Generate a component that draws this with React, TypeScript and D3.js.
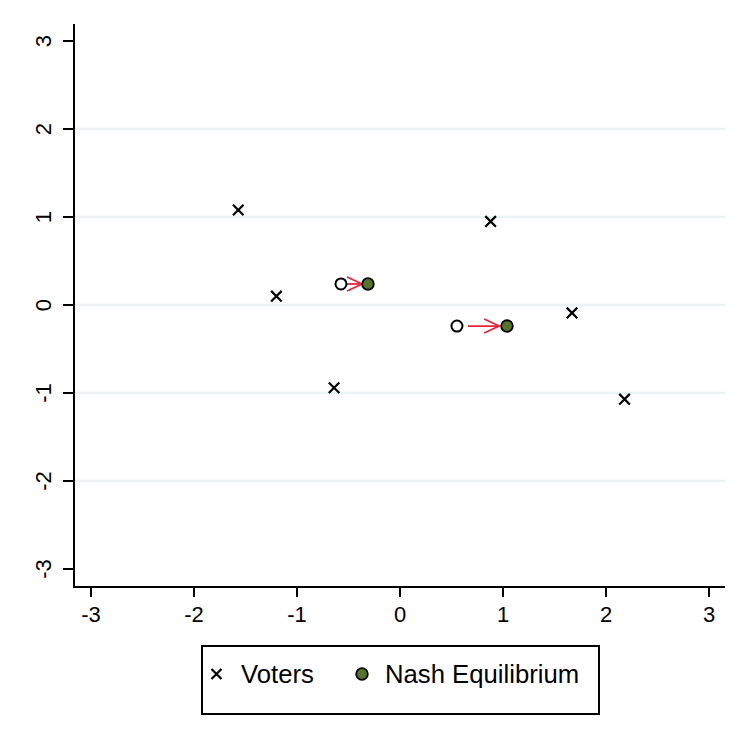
import React from "react";
import * as d3 from "d3";

const voterX = [-1.57, -1.2, -0.64, 0.88, 1.67, 2.18];
const voterY = [1.08, 0.1, -0.94, 0.95, -0.09, -1.07];

const startX = [-0.573, 0.553];
const startY = [0.239, -0.239];
const nashX = [-0.311, 1.039];
const nashY = [0.239, -0.239];

const arrowFromX = [-0.534, 0.66];
const arrowToX = [-0.369, 0.963];
const arrowY = [0.239, -0.239];

const xTicks = [-3, -2, -1, 0, 1, 2, 3];
const yTicks = [-3, -2, -1, 0, 1, 2, 3];
const gridTicks = [-2, -1, 0, 1, 2];

const W = 747;
const H = 747;
const GREEN = "#55752F";
const RED = "#E8243C";
const FONT = "'Liberation Sans', Arial, sans-serif";

export default function App() {
  const x = d3.scaleLinear().domain([-3, 3]).range([91, 709]);
  const y = d3.scaleLinear().domain([-3, 3]).range([569, 41]);
  const axL = 74, axR = 725, axT = 24, axB = 587;

  const cross = (cx: number, cy: number, s: number, key: string) => (
    <path key={key} d={`M${cx - s},${cy - s}L${cx + s},${cy + s}M${cx - s},${cy + s}L${cx + s},${cy - s}`} stroke="#000" strokeWidth={2.2} fill="none" />
  );

  return (
    <svg width={W} height={H} style={{ position: "absolute", left: 0, top: 0, background: "#fff" }} fontFamily={FONT}>
      <rect x={0} y={0} width={W} height={H} fill="#fff" />
      {gridTicks.map((t) => (
        <line key={"g" + t} x1={axL} x2={axR} y1={y(t)} y2={y(t)} stroke="#EAF2F3" strokeWidth={2.5} />
      ))}
      <line x1={axL} x2={axL} y1={axT} y2={axB + 1} stroke="#000" strokeWidth={2} />
      <line x1={axL - 1} x2={axR} y1={axB} y2={axB} stroke="#000" strokeWidth={2} />
      {yTicks.map((t) => (
        <g key={"yt" + t}>
          <line x1={axL - 11} x2={axL} y1={y(t)} y2={y(t)} stroke="#000" strokeWidth={2} />
          <text transform={`translate(${51},${y(t)}) rotate(-90)`} textAnchor="middle" fontSize={22} fill="#000">
            {t}
          </text>
        </g>
      ))}
      {xTicks.map((t) => (
        <g key={"xt" + t}>
          <line x1={x(t)} x2={x(t)} y1={axB} y2={axB + 10} stroke="#000" strokeWidth={2} />
          <text x={x(t)} y={622} textAnchor="middle" fontSize={22} fill="#000">
            {t}
          </text>
        </g>
      ))}
      {voterX.map((vx, i) => cross(x(vx), y(voterY[i]), 5.3, "v" + i))}
      {arrowFromX.map((ax, i) => {
        const x1 = x(ax), x2 = x(arrowToX[i]), yy = y(arrowY[i]);
        return (
          <g key={"a" + i}>
            <line x1={x1} x2={x2} y1={yy} y2={yy} stroke={RED} strokeWidth={1.8} />
            <path d={`M${x2 - 15},${yy - 7}L${x2},${yy}L${x2 - 15},${yy + 7}`} stroke={RED} strokeWidth={1.8} fill="none" />
          </g>
        );
      })}
      {startX.map((sx, i) => (
        <circle key={"s" + i} cx={x(sx)} cy={y(startY[i])} r={5.5} fill="#fff" stroke="#000" strokeWidth={2} />
      ))}
      {nashX.map((nx, i) => (
        <circle key={"n" + i} cx={x(nx)} cy={y(nashY[i])} r={5.8} fill={GREEN} stroke="#000" strokeWidth={1.8} />
      ))}
      <rect x={202} y={646} width={397} height={68} fill="#fff" stroke="#000" strokeWidth={2} />
      {cross(216.5, 674, 5, "lv")}
      <text x={241} y={683} fontSize={25.7} fill="#000">Voters</text>
      <circle cx={362} cy={674} r={5.8} fill={GREEN} stroke="#000" strokeWidth={1.8} />
      <text x={385} y={683} fontSize={25.7} fill="#000">Nash Equilibrium</text>
    </svg>
  );
}
